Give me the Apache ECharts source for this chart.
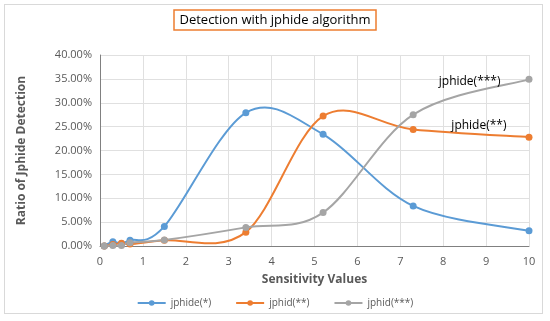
<!DOCTYPE html>
<html>
<head>
<meta charset="utf-8">
<script src="https://cdn.jsdelivr.net/npm/echarts@6/dist/echarts.min.js"></script>
<style>
html,body{margin:0;padding:0;background:#fff;}
#frame{position:absolute;left:4px;top:4px;width:539px;height:310px;border:1px solid #d9d9d9;box-sizing:border-box;}
#chart{position:absolute;left:0;top:0;width:550px;height:321px;}
</style>
</head>
<body>
<div id="frame"></div>
<div id="chart"></div>
<script>
const titleText = 'Detection with jphide algorithm';
const xValues = [0.1, 0.3, 0.5, 0.7, 1.5, 3.4, 5.2, 7.3, 10];
const seriesNames = ['jphide(*)', 'jphid(**)', 'jphid(***)'];
const seriesColors = ['#5B9BD5', '#ED7D31', '#A5A5A5'];
const jphide1 = [0, 0.9, 0.5, 1.2, 4.1, 27.9, 23.4, 8.4, 3.2];
const jphide2 = [0, 0.3, 0.6, 0.4, 1.2, 2.9, 27.2, 24.4, 22.8];
const jphide3 = [0, 0.1, 0.1, 0.7, 1.25, 3.9, 7.0, 27.5, 34.9];
const endLabels = [null, 'jphide(**)', 'jphide(***)'];
const xTicks = {min: 0, max: 10, interval: 1};
const yTicks = {min: 0, max: 0.4, interval: 0.05};

const allValues = [jphide1, jphide2, jphide3];
const labelCfg = [
  null,
  {position: 'left', distance: 19, offset: [0, -12]},
  {position: 'left', distance: 25, offset: [0, 2]}
];

// Excel-like smoothed curve (Catmull-Rom bezier) through pixel coords from the axes
function smoothPath(pts) {
  let d = 'M' + pts[0][0] + ',' + pts[0][1];
  for (let i = 0; i < pts.length - 1; i++) {
    const p0 = pts[i - 1] || pts[i];
    const p1 = pts[i];
    const p2 = pts[i + 1];
    const p3 = pts[i + 2] || pts[i + 1];
    const c1x = p1[0] + (p2[0] - p0[0]) / 6;
    const c1y = p1[1] + (p2[1] - p0[1]) / 6;
    const c2x = p2[0] - (p3[0] - p1[0]) / 6;
    const c2y = p2[1] - (p3[1] - p1[1]) / 6;
    d += ' C' + c1x + ',' + c1y + ' ' + c2x + ',' + c2y + ' ' + p2[0] + ',' + p2[1];
  }
  return d;
}

const curveSeries = allValues.map((vals, si) => ({
  type: 'custom',
  coordinateSystem: 'cartesian2d',
  silent: true,
  z: 1,
  clip: false,
  data: [[xValues[0], vals[0] / 100]],
  renderItem: function (params, api) {
    const pts = vals.map((v, i) => api.coord([xValues[i], v / 100]));
    return {
      type: 'path',
      shape: {pathData: smoothPath(pts)},
      style: {fill: 'none', stroke: seriesColors[si], lineWidth: 2}
    };
  }
}));

const pointSeries = allValues.map((vals, si) => ({
  name: seriesNames[si],
  type: 'line',
  symbol: 'circle',
  symbolSize: 7,
  lineStyle: {width: 2, color: seriesColors[si], opacity: 0},
  itemStyle: {color: seriesColors[si]},
  z: 3 + si,
  data: vals.map((v, i) => {
    const item = {value: [xValues[i], v / 100]};
    if (i === vals.length - 1 && endLabels[si]) {
      item.label = Object.assign({
        show: true,
        formatter: endLabels[si],
        color: '#000',
        fontSize: 12,
        fontFamily: 'Open Sans'
      }, labelCfg[si]);
    }
    return item;
  })
}));

const chart = echarts.init(document.getElementById('chart'), null, {renderer: 'canvas'});
chart.setOption({
  animation: false,
  backgroundColor: 'transparent',
  title: {
    text: titleText,
    left: 'center',
    top: 10,
    padding: [4, 6, 3, 6],
    borderColor: '#ED7D31',
    borderWidth: 1.5,
    textStyle: {fontSize: 13, fontWeight: 'normal', color: '#000', fontFamily: 'Open Sans'}
  },
  grid: {left: 100, right: 21, top: 55, bottom: 75},
  legend: {
    bottom: 8,
    left: 'center',
    itemWidth: 28,
    itemHeight: 7,
    itemGap: 24,
    textStyle: {fontSize: 10, color: '#595959', fontFamily: 'Open Sans'},
    data: seriesNames.map((n, i) => ({
      name: n,
      lineStyle: {color: seriesColors[i], width: 2, opacity: 1}
    }))
  },
  xAxis: {
    type: 'value',
    min: xTicks.min, max: xTicks.max, interval: xTicks.interval,
    name: 'Sensitivity Values',
    nameLocation: 'middle',
    nameGap: 28,
    nameTextStyle: {fontSize: 12, fontWeight: 'bold', color: '#595959', fontFamily: 'Open Sans'},
    axisLine: {lineStyle: {color: '#808080', width: 1}},
    axisTick: {show: false},
    axisLabel: {fontSize: 11, color: '#595959', fontFamily: 'Open Sans', margin: 10},
    splitLine: {show: true, lineStyle: {color: '#e0e0e0', width: 1}}
  },
  yAxis: {
    type: 'value',
    min: yTicks.min, max: yTicks.max, interval: yTicks.interval,
    name: 'Ratio of Jphide Detection',
    nameLocation: 'middle',
    nameGap: 72,
    nameTextStyle: {fontSize: 12, fontWeight: 'bold', color: '#595959', fontFamily: 'Open Sans'},
    axisLine: {show: true, lineStyle: {color: '#808080', width: 1}},
    axisTick: {show: false},
    axisLabel: {fontSize: 11, color: '#595959', fontFamily: 'Open Sans', margin: 8,
      formatter: v => (v * 100).toFixed(2) + '%'},
    splitLine: {show: true, lineStyle: {color: '#e0e0e0', width: 1}}
  },
  series: curveSeries.concat(pointSeries)
});
</script>
</body>
</html>
